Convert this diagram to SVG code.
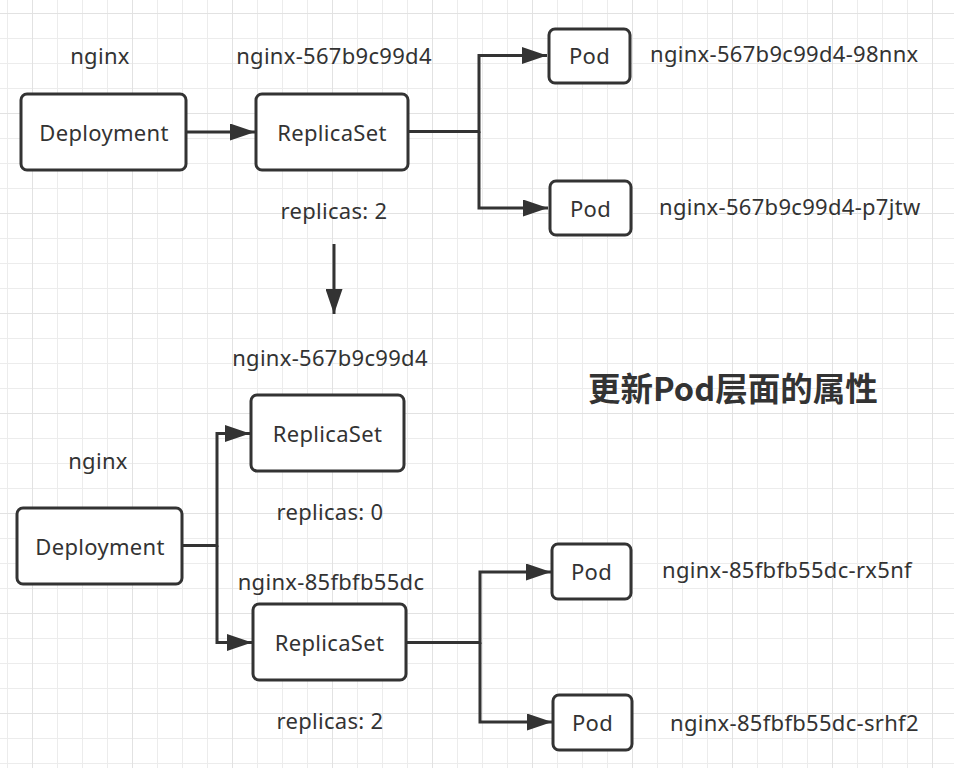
<svg xmlns="http://www.w3.org/2000/svg" width="954" height="768" viewBox="0 0 954 768">
<defs>
<pattern id="minor" x="7" y="13" width="25" height="25" patternUnits="userSpaceOnUse">
<path d="M0.5 0V25M0 0.5H25" fill="none" stroke="#ececec" stroke-width="1"/>
</pattern>
<pattern id="major" x="32" y="13" width="100" height="100" patternUnits="userSpaceOnUse">
<path d="M0.5 0V100M0 0.5H100" fill="none" stroke="#e2e2e2" stroke-width="1"/>
</pattern>
<marker id="arr" viewBox="0 0 25 17" refX="25" refY="8.5" markerWidth="25" markerHeight="17" markerUnits="userSpaceOnUse" orient="auto">
<path d="M0 0L25 8.5L0 17Z" fill="#333"/>
</marker>
</defs>
<style>
.node rect{fill:#fff;stroke:#333;stroke-width:3}
text{font-family:"Noto Sans","Open Sans","Noto Sans CJK SC",sans-serif;font-size:22px;letter-spacing:0.3px;fill:#333}
.node text{text-anchor:middle;dominant-baseline:central}
.lbl{text-anchor:middle;dominant-baseline:central}
.pl{dominant-baseline:central}
.edge{fill:none;stroke:#333;stroke-width:3}
.title{font-family:"Noto Sans CJK SC","Noto Sans",sans-serif;font-weight:bold;font-size:32.5px;letter-spacing:0;dominant-baseline:central}
</style>
<rect width="954" height="768" fill="#fff"/>
<rect width="954" height="768" fill="url(#minor)"/>
<rect width="954" height="768" fill="url(#major)"/>

<g id="connectors">
<path class="edge" d="M186 132H255" marker-end="url(#arr)"/>
<path class="edge" d="M408 131.5H479V55.5H547" marker-end="url(#arr)"/>
<path class="edge" d="M479 131.5V208H548" marker-end="url(#arr)"/>
<path class="edge" d="M334 244V314" marker-end="url(#arr)"/>
<path class="edge" d="M182 545.5H217V433.5H250" marker-end="url(#arr)"/>
<path class="edge" d="M217 545.5V642.5H252" marker-end="url(#arr)"/>
<path class="edge" d="M406 642.5H480V572H551" marker-end="url(#arr)"/>
<path class="edge" d="M480 642.5V722H552" marker-end="url(#arr)"/>
</g>

<g id="dep1" class="node"><rect x="21" y="94" width="165" height="76" rx="6"/><text x="104" y="132">Deployment</text></g>
<g id="rs1" class="node"><rect x="256" y="94" width="152" height="76" rx="6"/><text x="332" y="132">ReplicaSet</text></g>
<g id="pod1" class="node"><rect x="549" y="29" width="81" height="54" rx="6"/><text x="589.5" y="55">Pod</text></g>
<g id="pod2" class="node"><rect x="550" y="181" width="81" height="54" rx="6"/><text x="590.5" y="208">Pod</text></g>

<g id="dep2" class="node"><rect x="17" y="508" width="165" height="76" rx="6"/><text x="100" y="546">Deployment</text></g>
<g id="rs2" class="node"><rect x="251" y="395" width="153" height="76" rx="6"/><text x="327.5" y="433">ReplicaSet</text></g>
<g id="rs3" class="node"><rect x="253" y="604" width="153" height="76" rx="6"/><text x="329.5" y="642">ReplicaSet</text></g>
<g id="pod3" class="node"><rect x="552" y="544" width="79" height="55" rx="6"/><text x="591.5" y="571">Pod</text></g>
<g id="pod4" class="node"><rect x="553" y="695" width="79" height="55" rx="6"/><text x="592.5" y="722">Pod</text></g>

<g id="labels">
<text class="lbl" x="100" y="55">nginx</text>
<text class="lbl" x="334" y="55">nginx-567b9c99d4</text>
<text class="lbl" x="334" y="210">replicas: 2</text>
<text class="pl" x="650" y="53">nginx-567b9c99d4-98nnx</text>
<text class="pl" x="659" y="206">nginx-567b9c99d4-p7jtw</text>
<text class="lbl" x="330" y="357">nginx-567b9c99d4</text>
<text class="lbl" x="98" y="460">nginx</text>
<text class="lbl" x="330" y="511">replicas: 0</text>
<text class="lbl" x="331" y="581">nginx-85fbfb55dc</text>
<text class="lbl" x="330" y="720">replicas: 2</text>
<text class="pl" x="662" y="569">nginx-85fbfb55dc-rx5nf</text>
<text class="pl" x="670" y="722">nginx-85fbfb55dc-srhf2</text>
<text class="title" x="588" y="386">更新Pod层面的属性</text>
</g>
</svg>
